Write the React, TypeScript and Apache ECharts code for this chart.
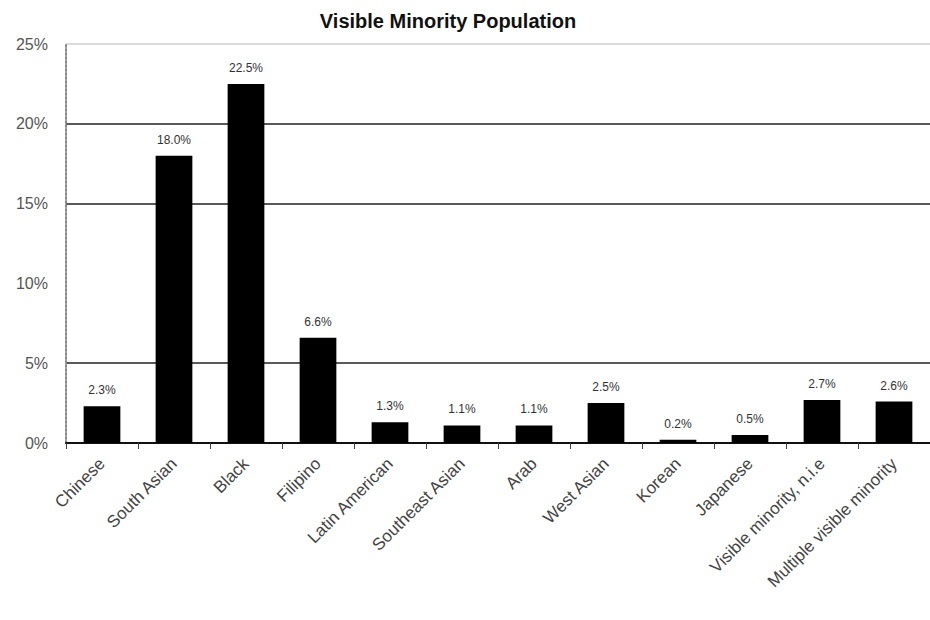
import React, { useEffect, useRef } from "react";
import * as echarts from "echarts";

const categories = [
  "Chinese",
  "South Asian",
  "Black",
  "Filipino",
  "Latin American",
  "Southeast Asian",
  "Arab",
  "West Asian",
  "Korean",
  "Japanese",
  "Visible minority, n.i.e",
  "Multiple visible minority",
];
const values = [2.3, 18.0, 22.5, 6.6, 1.3, 1.1, 1.1, 2.5, 0.2, 0.5, 2.7, 2.6];
const yTicks = [0, 5, 10, 15, 20, 25];

export default function App() {
  const ref = useRef<HTMLDivElement>(null);
  useEffect(() => {
    if (!ref.current) return;
    const chart = echarts.init(ref.current, null, { renderer: "svg" });
    chart.setOption({
      animation: false,
      backgroundColor: "#fff",
      title: {
        text: "Visible Minority Population",
        left: 443,
        textAlign: "center",
        top: 6,
        textStyle: {
          fontFamily: "Liberation Sans, Arial, sans-serif",
          fontSize: 20,
          fontWeight: "bold",
          color: "#111",
        },
      },
      grid: { left: 66, right: 0, top: 44, bottom: 177 },
      xAxis: {
        type: "category",
        data: categories,
        axisLine: { show: true, lineStyle: { color: "#111", width: 2 } },
        axisTick: { show: true, alignWithLabel: false, length: 6, lineStyle: { color: "#444" } },
        axisLabel: {
          rotate: 45,
          interval: 0,
          margin: 18,
          fontFamily: "Liberation Sans, Arial, sans-serif",
          fontSize: 17,
          color: "#444",
        },
      },
      yAxis: {
        type: "value",
        min: yTicks[0],
        max: yTicks[yTicks.length - 1],
        interval: 5,
        axisLine: { show: true, lineStyle: { color: "#888", type: "dotted", width: 2 } },
        axisTick: { show: false },
        axisLabel: {
          formatter: "{value}%",
          margin: 18,
          fontFamily: "Liberation Sans, Arial, sans-serif",
          fontSize: 16,
          color: "#555",
        },
        splitLine: {
          show: true,
          lineStyle: {
            color: ["rgba(0,0,0,0)", "#222", "rgba(0,0,0,0)", "#222", "#222", "#cfcfcf"],
            width: 1.5,
          },
        },
      },
      series: [
        {
          type: "bar",
          data: values,
          barWidth: "51%",
          itemStyle: { color: "#000" },
          label: {
            show: true,
            position: "top",
            distance: 10,
            formatter: (p: any) => p.value.toFixed(1) + "%",
            fontFamily: "Liberation Sans, Arial, sans-serif",
            fontSize: 12,
            color: "#333",
          },
        },
      ],
    });
    return () => chart.dispose();
  }, []);
  return (
    <div
      ref={ref}
      style={{ position: "fixed", left: 0, top: 0, width: 930, height: 620 }}
    />
  );
}
